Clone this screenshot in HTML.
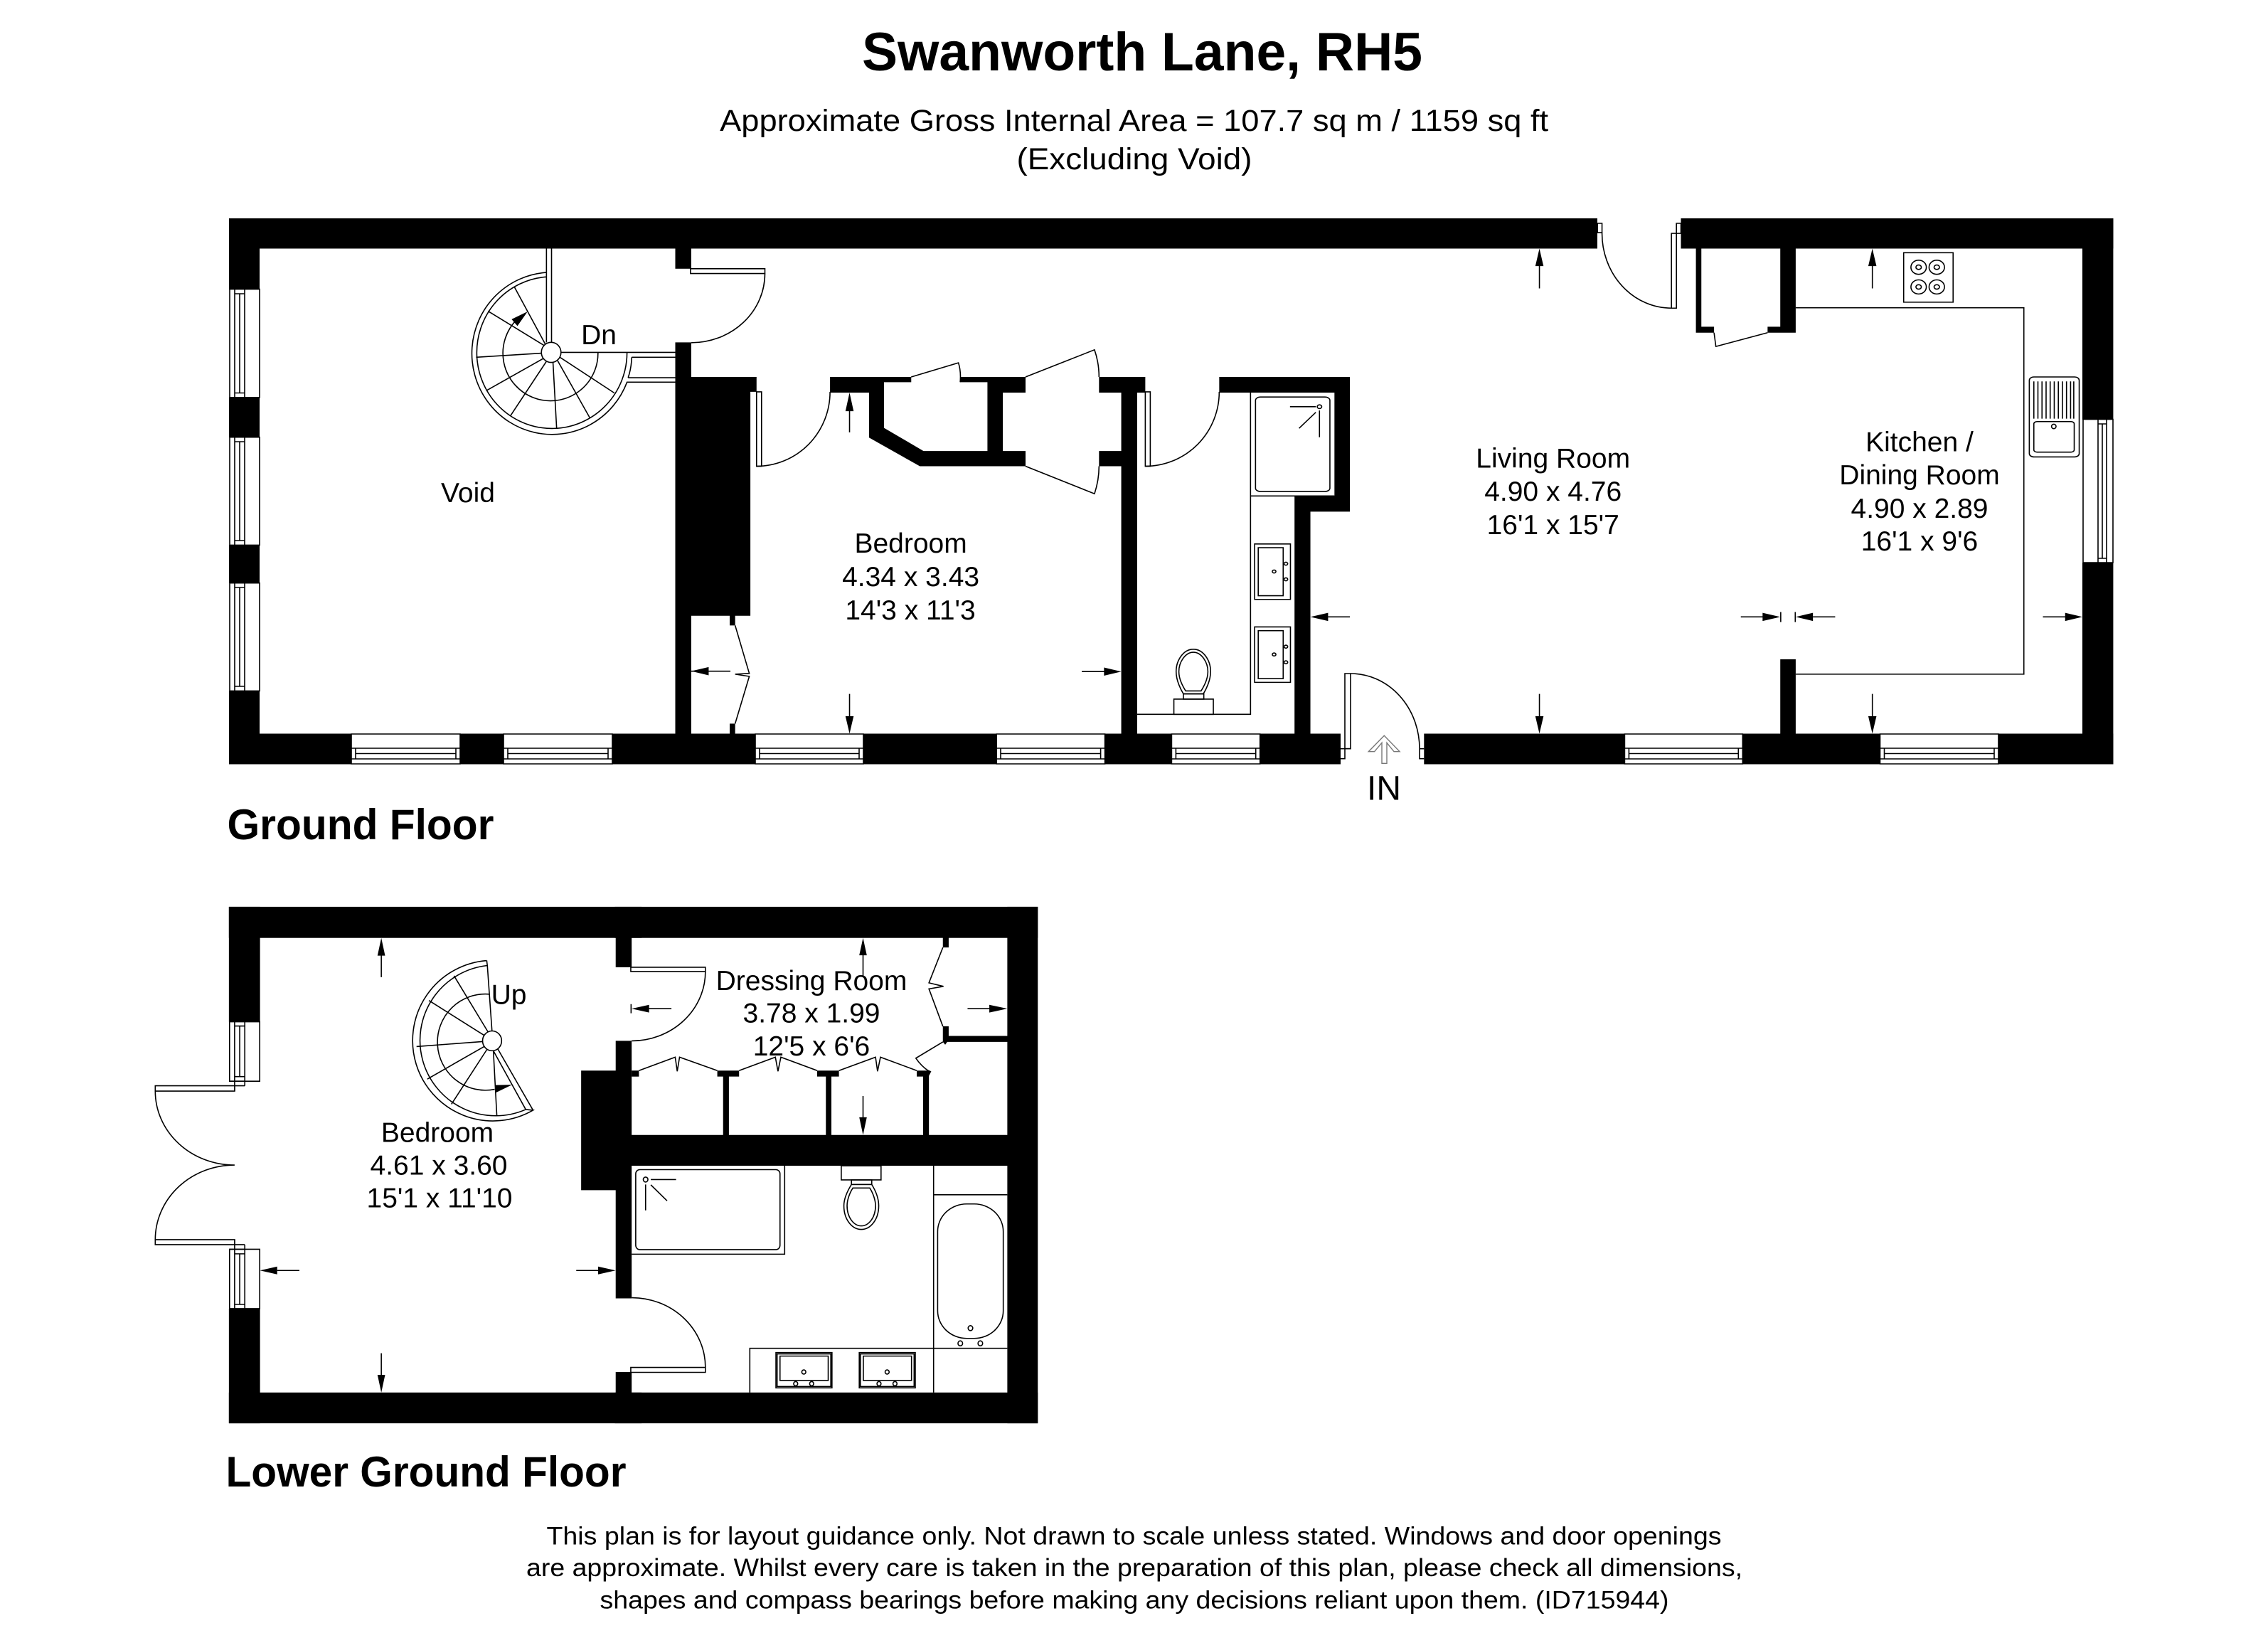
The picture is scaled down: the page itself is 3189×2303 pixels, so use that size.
<!DOCTYPE html>
<html><head><meta charset="utf-8"><title>Swanworth Lane, RH5</title>
<style>
html,body{margin:0;padding:0;background:#fff}
svg{display:block}
svg *{vector-effect:non-scaling-stroke}
.l{fill:none;stroke:#000;stroke-width:1.6}
.w{fill:#fff;stroke:#000;stroke-width:1.6}
.b{fill:#000;stroke:none}
.g{fill:#fff;stroke:#777;stroke-width:1.4}
text{font-family:"Liberation Sans",sans-serif;fill:#000;text-anchor:middle}
.r{font-size:39px}
.h{font-weight:bold}
</style></head><body>
<svg xmlns="http://www.w3.org/2000/svg" width="3189" height="2303" viewBox="0 0 3189 2303">
<rect width="3189" height="2303" fill="#fff"/>

<!-- ============ GROUND FLOOR: outer walls (real coords) ============ -->
<g class="b">
<rect x="322" y="307" width="1924" height="42.5"/>
<rect x="2363.5" y="307" width="608" height="42.5"/>
<rect x="322" y="307" width="43" height="100"/>
<rect x="322" y="558.8" width="43" height="56"/>
<rect x="322" y="766.4" width="43" height="53.4"/>
<rect x="322" y="971.4" width="43" height="103"/>
<rect x="322" y="1031.5" width="172" height="43"/>
<rect x="647" y="1031.5" width="61" height="43"/>
<rect x="861" y="1031.5" width="201" height="43"/>
<rect x="1214" y="1031.5" width="187.2" height="43"/>
<rect x="1553.6" y="1031.5" width="93.8" height="43"/>
<rect x="1771.7" y="1031.5" width="113.3" height="43"/>
<rect x="2002.3" y="1031.5" width="282.1" height="43"/>
<rect x="2450.3" y="1031.5" width="193.2" height="43"/>
<rect x="2810" y="1031.5" width="161.4" height="43"/>
<rect x="2928" y="307" width="43.4" height="283"/>
<rect x="2928" y="791" width="43.4" height="283.5"/>
</g>

<!-- windows: ground floor bottom -->
<g class="w">
<rect x="494" y="1032" width="153" height="42"/><rect x="708" y="1032" width="153" height="42"/>
<rect x="1062" y="1032" width="152" height="42"/><rect x="1401.2" y="1032" width="152.4" height="42"/>
<rect x="1647.4" y="1032" width="124.3" height="42"/><rect x="2284.4" y="1032" width="165.9" height="42"/>
<rect x="2643.5" y="1032" width="166.5" height="42"/>
</g>
<path class="l" d="M494 1052H647M494 1067H647M500 1052V1067M641 1052V1067M500 1059.5H641
M708 1052H861M708 1067H861M714 1052V1067M855 1052V1067M714 1059.5H855
M1062 1052H1214M1062 1067H1214M1068 1052V1067M1208 1052V1067M1068 1059.5H1208
M1401.2 1052H1553.6M1401.2 1067H1553.6M1407 1052V1067M1547.6 1052V1067M1407 1059.5H1547.6
M1647.4 1052H1771.7M1647.4 1067H1771.7M1653.4 1052V1067M1765.7 1052V1067M1653.4 1059.5H1765.7
M2284.4 1052H2450.3M2284.4 1067H2450.3M2290.4 1052V1067M2444.3 1052V1067M2290.4 1059.5H2444.3
M2643.5 1052H2810M2643.5 1067H2810M2649.5 1052V1067M2804 1052V1067M2649.5 1059.5H2804"/>
<!-- windows: left + right -->
<g class="w">
<rect x="323" y="406.6" width="42" height="152.2"/><rect x="323" y="614.7" width="42" height="151.7"/><rect x="323" y="819.7" width="42" height="151.7"/>
<rect x="2929" y="589.6" width="42" height="201.4"/>
</g>
<path class="l" d="M330 406.6V558.8M344 406.6V558.8M330 413H344M330 552.5H344M337 413V552.5
M330 614.7V766.4M344 614.7V766.4M330 621H344M330 760H344M337 621V760
M330 819.7V971.4M344 819.7V971.4M330 826H344M330 965H344M337 826V965
M2950 589.6V791M2962 589.6V791M2950 596H2962M2950 785H2962M2956 596V785"/>

<!-- ============ Ground floor zone 1 ============ -->
<g transform="translate(300 280) scale(.5102 .5230)">
<g class="b">
<rect x="1273" y="120" width="44" height="67"/>
<polygon points="1273,385 1317,385 1317,478 1497,478 1497,518 1480,518 1480,1120 1317,1120 1317,1445 1273,1445"/>
<rect x="1423" y="1118" width="15" height="28"/>
<rect x="1423" y="1410" width="15" height="30"/>
</g>
<rect class="w" x="1315" y="187" width="205" height="13"/>
<path class="l" d="M1520 200A203 186 0 0 1 1317 386"/>
<path class="l" d="M1438 1146L1477 1275L1438 1277L1477 1283L1438 1410"/>
<path class="l" d="M1317 1269H1425"/><polygon class="b" points="1317,1269 1365,1258 1365,1280"/>
<!-- spiral -->
<path class="l" d="M918 133V385M932 133V385M918 197A221 218 0 1 0 1140 492L1273 492M918 209A207 204 0 1 0 1140 412M1153 425Q1152 455 1143 480M1153 425H1273M1143 480H1273M958 412H1273"/>
<path class="l" d="M835 325A131 128 0 1 0 1060 412"/>
<path class="l" d="M916 392L829 235M916 396L757 301M905 414L724 425M910 428L752 515M918 436L819 582M936 439L946 615M948 433L1037 587M955 425L1105 521"/>
<ellipse class="w" cx="931" cy="412" rx="27" ry="27"/>
<polygon class="b" points="866,302 822,323 838,341"/>
</g>

<!-- ============ Ground floor zone 2 ============ -->
<g transform="translate(1000 280) scale(.6378 .5230)">
<polygon class="b" points="262,478 441,478 441,492 381,492 381,615 468,677 609,677 609,492 549,492 549,478 693,478 693,520 643,520 643,677 693,677 693,718 460,718 348,641 348,520 262,520"/>
<polygon class="b" points="855,478 957,478 957,520 939,520 939,1445 904,1445 904,718 855,718 855,677 904,677 904,520 855,520"/>
<polygon class="b" points="1120,478 1408,478 1408,840 1321,840 1321,1445 1286,1445 1286,798 1374,798 1374,520 1120,520"/>
<rect class="w" x="100" y="518" width="11" height="200"/>
<path class="l" d="M100 718A162 200 0 0 0 262 518"/>
<rect class="w" x="957" y="518" width="11" height="200"/>
<path class="l" d="M957 718A163 200 0 0 0 1120 518"/>
<path class="l" d="M441 478L545 440Q551 462 549 492M693 478L845 405Q855 440 855 478M693 718L845 792Q855 755 855 718"/>
<!-- shower -->
<path class="l" d="M1189 520V1385H939M1189 798H1374"/>
<rect class="l" x="1200" y="532" width="164" height="254" rx="11" ry="9"/>
<ellipse class="l" cx="1341" cy="558" rx="5" ry="5"/>
<path class="l" d="M1276 558H1333M1341 568V640M1333 573L1296 616"/>
<!-- sinks -->
<rect class="l" x="1198" y="927" width="79" height="149"/><rect class="l" x="1206" y="937" width="55" height="129"/>
<ellipse class="l" cx="1241" cy="1001" rx="4" ry="4"/><ellipse class="l" cx="1267" cy="980" rx="4" ry="4"/><ellipse class="l" cx="1267" cy="1022" rx="4" ry="4"/>
<rect class="l" x="1198" y="1150" width="79" height="149"/><rect class="l" x="1206" y="1160" width="55" height="129"/>
<ellipse class="l" cx="1241" cy="1224" rx="4" ry="4"/><ellipse class="l" cx="1267" cy="1203" rx="4" ry="4"/><ellipse class="l" cx="1267" cy="1245" rx="4" ry="4"/>
<!-- toilet -->
<path class="l" d="M1063 1210C1085 1210 1101 1240 1101 1270C1101 1295 1090 1320 1085 1330L1041 1330C1036 1320 1025 1295 1025 1270C1025 1240 1041 1210 1063 1210Z"/>
<path class="l" d="M1063 1218C1081 1218 1095 1245 1095 1270C1095 1292 1085 1312 1080 1322L1046 1322C1041 1312 1031 1292 1031 1270C1031 1245 1045 1218 1063 1218Z"/>
<rect class="l" x="1041" y="1330" width="45" height="14"/><rect class="l" x="1020" y="1344" width="87" height="41"/>
<!-- arrows -->
<path class="l" d="M305 560V627M305 1330V1400M817 1270H880M1360 1123H1408"/>
<polygon class="b" points="305,520 296,570 314,570"/>
<polygon class="b" points="305,1437 296,1390 314,1390"/>
<polygon class="b" points="904,1270 866,1259 866,1281"/>
<polygon class="b" points="1321,1123 1360,1112 1360,1134"/>
</g>

<!-- entry door (real coords) -->
<rect class="w" x="1891" y="947" width="8" height="105.7"/>
<path class="l" d="M1899 947A97 105.7 0 0 1 1996 1052.7"/>
<path class="l" d="M1885 1052.7H1899M1885 1066.7H1891V1052.7M1996 1052.7H2002.3M1996 1052.7V1066.7H2002.3"/>
<polygon class="g" points="1946.3,1034.3 1924.3,1056.7 1932.6,1056.7 1943,1044.3 1943,1073.3 1950,1073.3 1950,1044.3 1960,1056.7 1968,1056.7"/>

<!-- ============ Ground floor zone 3 ============ -->
<g transform="translate(2000 280) scale(.6378 .5230)">
<rect class="w" x="386" y="65" width="10" height="25"/>
<path class="l" d="M396 90A153 201 0 0 0 549 293"/>
<rect class="w" x="549" y="92" width="11" height="201"/>
<rect class="w" x="560" y="65" width="10" height="27"/>
<polygon class="b" points="603,125 615,125 615,343 643,343 643,359 603,359"/>
<polygon class="b" points="789,125 823,125 823,359 761,359 761,343 789,343"/>
<path class="l" d="M643 359L647 396L761 359"/>
<rect class="b" x="789" y="1237" width="34" height="208"/>
<path class="l" d="M823 292H1326V1277H823"/>
<!-- hob -->
<rect class="l" x="1061" y="144" width="109" height="133"/>
<ellipse class="l" cx="1094" cy="183" rx="17" ry="19"/><ellipse class="l" cx="1094" cy="183" rx="6" ry="6"/>
<ellipse class="l" cx="1134" cy="183" rx="17" ry="19"/><ellipse class="l" cx="1134" cy="183" rx="6" ry="6"/>
<ellipse class="l" cx="1094" cy="236" rx="17" ry="19"/><ellipse class="l" cx="1094" cy="236" rx="6" ry="6"/>
<ellipse class="l" cx="1134" cy="236" rx="17" ry="19"/><ellipse class="l" cx="1134" cy="236" rx="6" ry="6"/>
<!-- kitchen sink -->
<rect class="w" x="1338" y="478" width="110" height="215" rx="10" ry="9"/>
<path class="l" d="M1348 490V590M1357 490V590M1366 490V590M1375 490V590M1384 490V590M1393 490V590M1402 490V590M1411 490V590M1420 490V590M1429 490V590M1436 490V590"/>
<rect class="l" x="1348" y="598" width="89" height="82" rx="7" ry="6"/>
<ellipse class="l" cx="1392" cy="611" rx="5" ry="6"/>
<!-- arrows -->
<path class="l" d="M258 175V240M258 1330V1400M992 175V240M992 1330V1400M702 1123H760M861 1123H910M1368 1123H1425M790 1110V1137M822 1110V1137"/>
<polygon class="b" points="258,133 249,180 267,180"/><polygon class="b" points="258,1437 249,1390 267,1390"/>
<polygon class="b" points="992,133 983,180 1001,180"/><polygon class="b" points="992,1437 983,1390 1001,1390"/>
<polygon class="b" points="789,1123 750,1112 750,1134"/><polygon class="b" points="823,1123 861,1112 861,1134"/>
<polygon class="b" points="1455,1123 1417,1112 1417,1134"/>
</g>

<!-- ============ LOWER GROUND: left part ============ -->
<g transform="translate(200 1260) scale(.4464 .4974)">
<rect class="b" x="273" y="30" width="1300" height="88"/>
<rect class="b" x="273" y="1403" width="1300" height="87"/>
<rect class="b" x="273" y="30" width="98" height="325"/>
<rect class="b" x="273" y="1166" width="98" height="324"/>
<rect class="w" x="275" y="355" width="95" height="168"/>
<rect class="w" x="275" y="998" width="95" height="168"/>
<path class="l" d="M291 355V551M323 355V536M291 367H323M291 510H323M307 367V510M275 523H323"/>
<path class="l" d="M291 970V1166M323 985V1166M291 1011H323M291 1154H323M307 1011V1154M275 998H323"/>
<path class="w" d="M41 536H291V551H41Z"/>
<path class="w" d="M41 971H291V985H41Z"/>
<path class="l" d="M291 536H323M291 985H323"/>
<path class="l" d="M41 551A250 209 0 0 0 291 760A250 211 0 0 0 41 971"/>
<!-- spiral -->
<path class="w" style="fill:none" d="M1085 182A253 227 0 1 0 1231 605L1208 603A238 213 0 1 1 1087 196L1085 182"/>
<path class="l" d="M1087 196L1102 385M1120 432L1231 605M1106 437L1208 603"/>
<path class="l" d="M1093 277A151 136 0 1 0 1110 546"/>
<path class="l" d="M1090 385L982 225M1078 394L903 295M1072 411L864 425M1077 425L898 517M1086 433L974 588M1106 437L1117 622"/>
<ellipse class="w" cx="1102" cy="409" rx="30" ry="28"/>
<polygon class="b" points="1165,533 1110,534 1115,555"/>
<!-- arrows -->
<path class="l" d="M753 160V229M753 1292V1360M425 1058H495M1367 1058H1440"/>
<polygon class="b" points="753,118 741,168 765,168"/><polygon class="b" points="753,1403 741,1353 765,1353"/>
<polygon class="b" points="371,1058 425,1047 425,1069"/><polygon class="b" points="1491,1058 1436,1047 1436,1069"/>
</g>

<!-- ============ LOWER GROUND: right part ============ -->
<g transform="translate(840 1260) scale(.4082 .4974)">
<rect class="b" x="60" y="30" width="1457" height="88"/>
<rect class="b" x="60" y="1403" width="1457" height="87"/>
<rect class="b" x="1412" y="30" width="105" height="1460"/>
<rect class="b" x="63" y="110" width="55" height="91"/>
<polygon class="b" points="63,409 118,409 118,1137 63,1137 63,831 -56,831 -56,493 63,493"/>
<rect class="b" x="63" y="1345" width="55" height="65"/>
<rect class="b" x="110" y="675" width="1310" height="87"/>
<rect class="w" x="115" y="201" width="257" height="12"/>
<path class="l" d="M372 213A254 196 0 0 1 118 409"/>
<rect class="w" x="115" y="1332" width="257" height="14"/>
<path class="l" d="M118 1135A254 197 0 0 1 372 1332"/>
<!-- wardrobes -->
<g class="b">
<rect x="118" y="493" width="25" height="17"/>
<polygon points="413,493 488,493 488,510 453,510 453,680 433,680 433,510 413,510"/>
<polygon points="757,493 832,493 832,510 806,510 806,680 787,680 787,510 757,510"/>
<polygon points="1100,493 1136,493 1136,490 1150,495 1142,508 1142,680 1122,680 1122,510 1100,510"/>
<rect x="1190" y="112" width="20" height="33"/>
<polygon points="1190,368 1210,368 1210,395 1416,395 1416,412 1205,412 1198,420 1190,412"/>
</g>
<path class="l" d="M143 493L268 455L275 495L283 455L413 493M488 493L613 455L622 495L632 455L757 493M832 493L958 455L965 495L975 455L1100 493"/>
<path class="l" d="M1190 145L1142 245L1192 255L1142 262L1190 368M1190 412L1097 458Q1115 480 1142 495"/>
<!-- shower -->
<path class="l" d="M118 1012H645V762"/>
<rect class="l" x="132" y="773" width="497" height="226" rx="14" ry="12"/>
<ellipse class="l" cx="166" cy="801" rx="8" ry="7"/>
<path class="l" d="M184 801H271M166 815V888M184 816L240 861"/>
<!-- toilet -->
<rect class="l" x="840" y="762" width="137" height="40"/><rect class="l" x="875" y="802" width="70" height="13"/>
<path class="l" d="M875 815L945 815C960 835 969 855 969 875C969 915 940 942 909 942C878 942 849 915 849 875C849 855 860 835 875 815Z"/>
<path class="l" d="M880 825L938 825C950 840 958 860 958 875C958 908 935 932 909 932C883 932 860 908 860 875C860 860 868 840 880 825Z"/>
<!-- bath + counter -->
<path class="l" d="M1158 762V1403M1158 844H1412M525 1403V1278H1412"/>
<rect class="l" x="1172" y="870" width="226" height="380" rx="100" ry="78"/>
<ellipse class="l" cx="1285" cy="1221" rx="8" ry="7"/><ellipse class="l" cx="1250" cy="1264" rx="8" ry="7"/><ellipse class="l" cx="1319" cy="1264" rx="8" ry="7"/>
<!-- sinks -->
<rect class="l" x="615" y="1290" width="193" height="100"/><rect class="l" x="619" y="1294" width="185" height="92"/><rect class="l" x="629" y="1300" width="166" height="69"/>
<ellipse class="l" cx="711" cy="1345" rx="7" ry="6"/><ellipse class="l" cx="683" cy="1378" rx="7" ry="6"/><ellipse class="l" cx="738" cy="1378" rx="7" ry="6"/>
<rect class="l" x="902" y="1290" width="193" height="100"/><rect class="l" x="906" y="1294" width="185" height="92"/><rect class="l" x="916" y="1300" width="166" height="69"/>
<ellipse class="l" cx="998" cy="1345" rx="7" ry="6"/><ellipse class="l" cx="970" cy="1378" rx="7" ry="6"/><ellipse class="l" cx="1025" cy="1378" rx="7" ry="6"/>
<!-- arrows -->
<path class="l" d="M915 160V225M915 565V635M1275 318H1360M170 318H255M116 305V331"/>
<polygon class="b" points="915,118 902,167 928,167"/><polygon class="b" points="915,675 902,625 928,625"/>
<polygon class="b" points="1412,318 1350,307 1350,329"/><polygon class="b" points="118,318 178,307 178,329"/>
</g>

<!-- ============ TEXT ============ -->
<text class="h" x="1606" y="99" font-size="76" textLength="788" lengthAdjust="spacingAndGlyphs">Swanworth Lane, RH5</text>
<text x="1594.6" y="184" font-size="42.5" textLength="1165" lengthAdjust="spacingAndGlyphs">Approximate Gross Internal Area = 107.7 sq m / 1159 sq ft</text>
<text x="1595" y="238" font-size="42.5" textLength="331" lengthAdjust="spacingAndGlyphs">(Excluding Void)</text>

<text class="r" x="658" y="706">Void</text>
<text class="r" x="842" y="484">Dn</text>
<text class="r" x="1280.6" y="777">Bedroom</text>
<text class="r" x="1280.6" y="824">4.34 x 3.43</text>
<text class="r" x="1280" y="871">14'3 x 11'3</text>
<text class="r" x="2183.7" y="657.6">Living Room</text>
<text class="r" x="2183.7" y="704">4.90 x 4.76</text>
<text class="r" x="2183.7" y="751">16'1 x 15'7</text>
<text class="r" x="2699" y="634.6">Kitchen /</text>
<text class="r" x="2699" y="681">Dining Room</text>
<text class="r" x="2699" y="728">4.90 x 2.89</text>
<text class="r" x="2699" y="774">16'1 x 9'6</text>
<text x="1946" y="1124.3" font-size="48">IN</text>

<text class="h" x="507" y="1180" font-size="60" textLength="375" lengthAdjust="spacingAndGlyphs">Ground Floor</text>

<text class="r" x="715.5" y="1411.7">Up</text>
<text class="r" x="615" y="1605.7">Bedroom</text>
<text class="r" x="617" y="1651.5">4.61 x 3.60</text>
<text class="r" x="618" y="1697.7">15'1 x 11'10</text>
<text class="r" x="1141" y="1391.8">Dressing Room</text>
<text class="r" x="1141" y="1437.6">3.78 x 1.99</text>
<text class="r" x="1141" y="1483.8">12'5 x 6'6</text>

<text class="h" x="599" y="2090" font-size="60" textLength="563" lengthAdjust="spacingAndGlyphs">Lower Ground Floor</text>

<text x="1594.5" y="2171.7" font-size="35.5" textLength="1652" lengthAdjust="spacingAndGlyphs">This plan is for layout guidance only. Not drawn to scale unless stated. Windows and door openings</text>
<text x="1595" y="2216" font-size="35.5" textLength="1710" lengthAdjust="spacingAndGlyphs">are approximate. Whilst every care is taken in the preparation of this plan, please check all dimensions,</text>
<text x="1595" y="2261.7" font-size="35.5" textLength="1503" lengthAdjust="spacingAndGlyphs">shapes and compass bearings before making any decisions reliant upon them. (ID715944)</text>
</svg>
</body></html>
